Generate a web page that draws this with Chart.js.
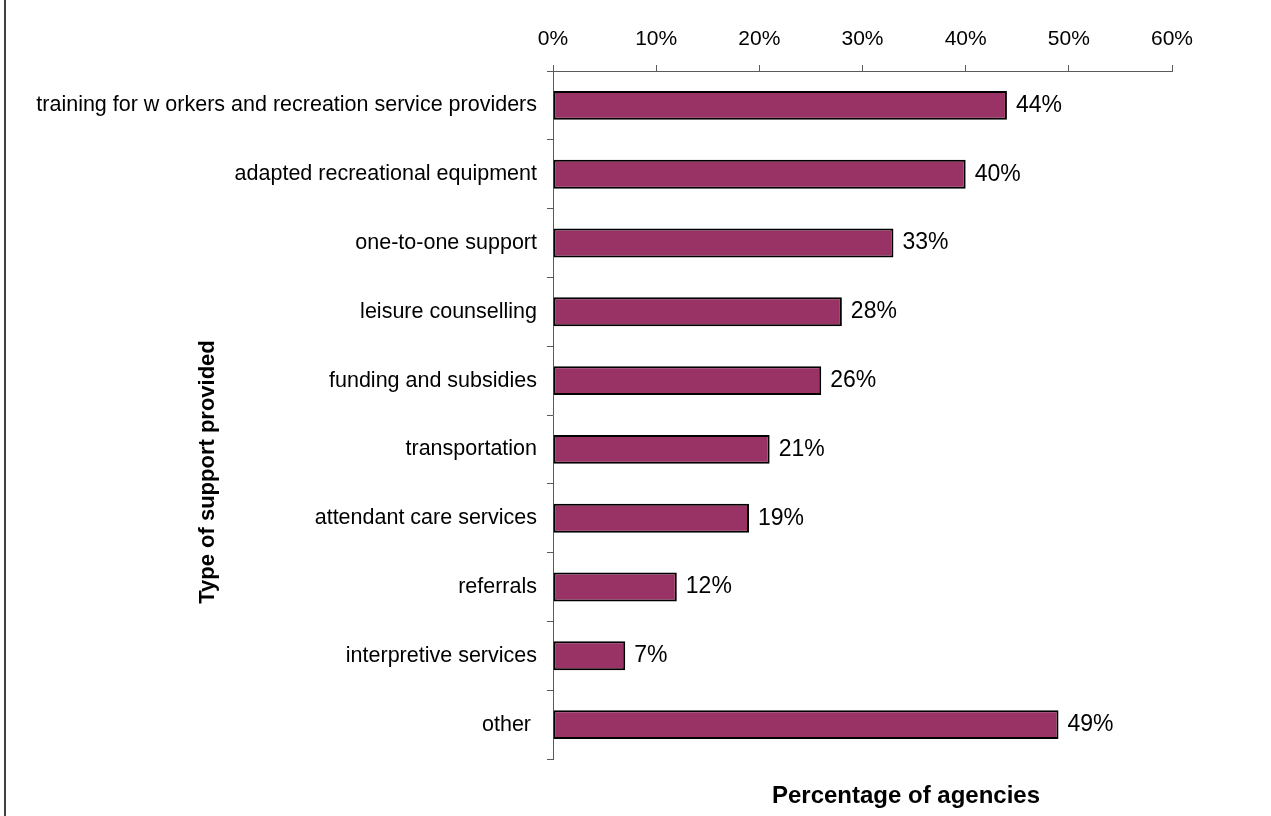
<!DOCTYPE html>
<html>
<head>
<meta charset="utf-8">
<script src="https://cdn.jsdelivr.net/npm/chart.js@4"></script>
<style>
  html, body { margin: 0; padding: 0; background: #fff; }
  canvas { display: block; }
</style>
</head>
<body>
<canvas id="supportChart" width="1271" height="816"></canvas>
<script>
const supportTypes = [
  'training for w orkers and recreation service providers',
  'adapted recreational equipment',
  'one-to-one support',
  'leisure counselling',
  'funding and subsidies',
  'transportation',
  'attendant care services',
  'referrals',
  'interpretive services',
  'other '
];
const agencyPercent = [44, 40, 33, 28, 26, 21, 19, 12, 7, 49];
const percentTicks = [0, 10, 20, 30, 40, 50, 60];

const FONT = '"Liberation Sans", Arial, sans-serif';
const AXIS_GREY = '#5a5a5a';

// left frame line, value labels and the two axis titles
const extras = {
  id: 'extras',
  beforeDraw(chart) {
    const ctx = chart.ctx;
    ctx.save();
    ctx.fillStyle = '#fff';
    ctx.fillRect(0, 0, chart.width, chart.height);
    ctx.strokeStyle = '#404040';
    ctx.lineWidth = 2;
    ctx.beginPath();
    ctx.moveTo(5, 0);
    ctx.lineTo(5, chart.height);
    ctx.stroke();
    ctx.restore();
  },
  afterDatasetsDraw(chart) {
    const ctx = chart.ctx;
    const meta = chart.getDatasetMeta(0);
    ctx.save();
    ctx.fillStyle = '#000';
    ctx.font = '23px ' + FONT;
    ctx.textAlign = 'left';
    ctx.textBaseline = 'middle';
    meta.data.forEach((bar, i) => {
      ctx.fillText(agencyPercent[i] + '%', bar.x + 9, bar.y);
    });

    ctx.font = 'bold 24px ' + FONT;
    ctx.textAlign = 'center';
    ctx.fillText('Percentage of agencies', 906, 796);

    ctx.font = 'bold 22px ' + FONT;
    ctx.translate(208, 472);
    ctx.rotate(-Math.PI / 2);
    ctx.fillText('Type of support provided', 0, 0);
    ctx.restore();
  }
};

new Chart(document.getElementById('supportChart'), {
  type: 'bar',
  data: {
    labels: supportTypes,
    datasets: [{
      data: agencyPercent,
      backgroundColor: '#993366',
      borderColor: '#000',
      borderWidth: 2,
      borderSkipped: false,
      categoryPercentage: 1,
      barPercentage: 0.42
    }]
  },
  options: {
    indexAxis: 'y',
    responsive: false,
    animation: false,
    layout: { padding: { left: 0, top: 0, right: 99, bottom: 57 } },
    plugins: {
      legend: { display: false },
      tooltip: { enabled: false }
    },
    scales: {
      x: {
        position: 'top',
        min: 0,
        max: 60,
        afterFit(scale) { scale.height = 71; },
        afterBuildTicks(scale) {
          scale.ticks = percentTicks.map(v => ({ value: v }));
        },
        ticks: {
          color: '#000',
          font: { family: FONT, size: 21 },
          padding: 13,
          maxRotation: 0,
          callback: v => v + '%'
        },
        grid: {
          drawOnChartArea: false,
          drawTicks: true,
          tickLength: 6,
          color: AXIS_GREY
        },
        border: { color: AXIS_GREY, width: 1 }
      },
      y: {
        afterFit(scale) { scale.width = 553; },
        ticks: {
          color: '#000',
          font: { family: FONT, size: 21.5 },
          padding: 10,
          autoSkip: false
        },
        grid: {
          offset: true,
          drawOnChartArea: false,
          drawTicks: true,
          tickLength: 6,
          color: AXIS_GREY
        },
        border: { color: AXIS_GREY, width: 1 }
      }
    }
  },
  plugins: [extras]
});
</script>
</body>
</html>
